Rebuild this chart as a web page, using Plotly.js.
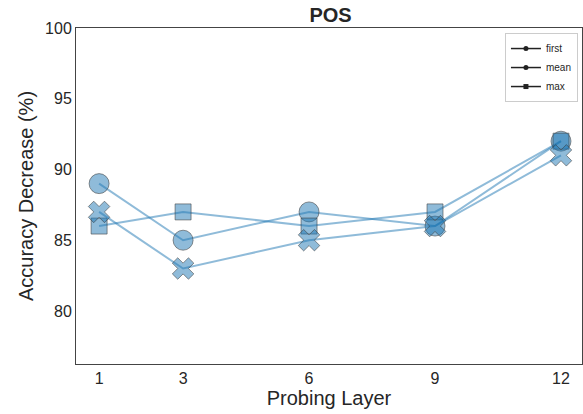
<!DOCTYPE html>
<html><head><meta charset="utf-8">
<script src="https://cdn.plot.ly/plotly-3.0.1.min.js"></script>
<style>body{margin:0;background:#fff}#c{width:583px;height:414px}</style>
</head><body><div id="c"></div>
<script>
const layers = [1, 3, 6, 9, 12];
const firstVals = [89, 85, 87, 86, 92];
const meanVals = [86, 87, 86, 87, 92];
const maxVals = [87, 83, 85, 86, 91];
const names = ['first', 'mean', 'max'];
const symbols = ['circle', 'square', 'x'];
const legendSymbols = ['circle', 'circle', 'square'];
const series = [firstVals, meanVals, maxVals];
const markerSizes = [20, 16, 19];

const traces = [];
series.forEach((vals, i) => {
  traces.push({
    x: layers, y: vals, type: 'scatter', mode: 'lines+markers', showlegend: false,
    line: {color: 'rgba(31,119,180,0.5)', width: 2},
    marker: {symbol: symbols[i], size: markerSizes[i], color: 'rgba(31,119,180,0.5)',
             line: {color: 'rgba(60,60,60,0.55)', width: 1}}
  });
});
names.forEach((n, i) => {
  traces.push({
    x: [null], y: [null], type: 'scatter', mode: 'lines+markers', name: n,
    line: {color: '#222', width: 1.5},
    marker: {symbol: legendSymbols[i], size: 5, color: '#222'}
  });
});

const layout = {
  width: 583, height: 414,
  margin: {l: 76, r: 1, t: 28, b: 50},
  paper_bgcolor: '#fff', plot_bgcolor: '#fff',
  font: {family: 'Liberation Sans, Arial, sans-serif', color: '#262626'},
  title: {text: '<b>POS</b>', font: {size: 20, color: '#262626'}, x: 0.567, xanchor: 'center', y: 0.963, yanchor: 'middle'},
  xaxis: {
    range: [0.45, 12.5], tickvals: layers, ticktext: layers.map(String),
    showgrid: false, zeroline: false, showline: true, linecolor: '#444', linewidth: 1, mirror: true,
    ticks: '', tickfont: {size: 16, color: '#262626'},
    title: {text: 'Probing Layer', font: {size: 20, color: '#262626'}, standoff: 4}
  },
  yaxis: {
    range: [76.25, 100], tickvals: [80, 85, 90, 95, 100],
    showgrid: false, zeroline: false, showline: true, linecolor: '#444', linewidth: 1, mirror: true,
    ticks: '', tickfont: {size: 16, color: '#262626'},
    title: {text: 'Accuracy Decrease (%)', font: {size: 20, color: '#262626'}, standoff: 6}
  },
  legend: {x: 0.992, y: 0.985, xanchor: 'right', yanchor: 'top', bgcolor: '#fff',
           bordercolor: '#ccc', borderwidth: 1, font: {size: 10, color: '#262626'},
           tracegroupgap: 0, itemwidth: 30}
};
Plotly.newPlot('c', traces, layout, {displayModeBar: false, staticPlot: true});
</script></body></html>
